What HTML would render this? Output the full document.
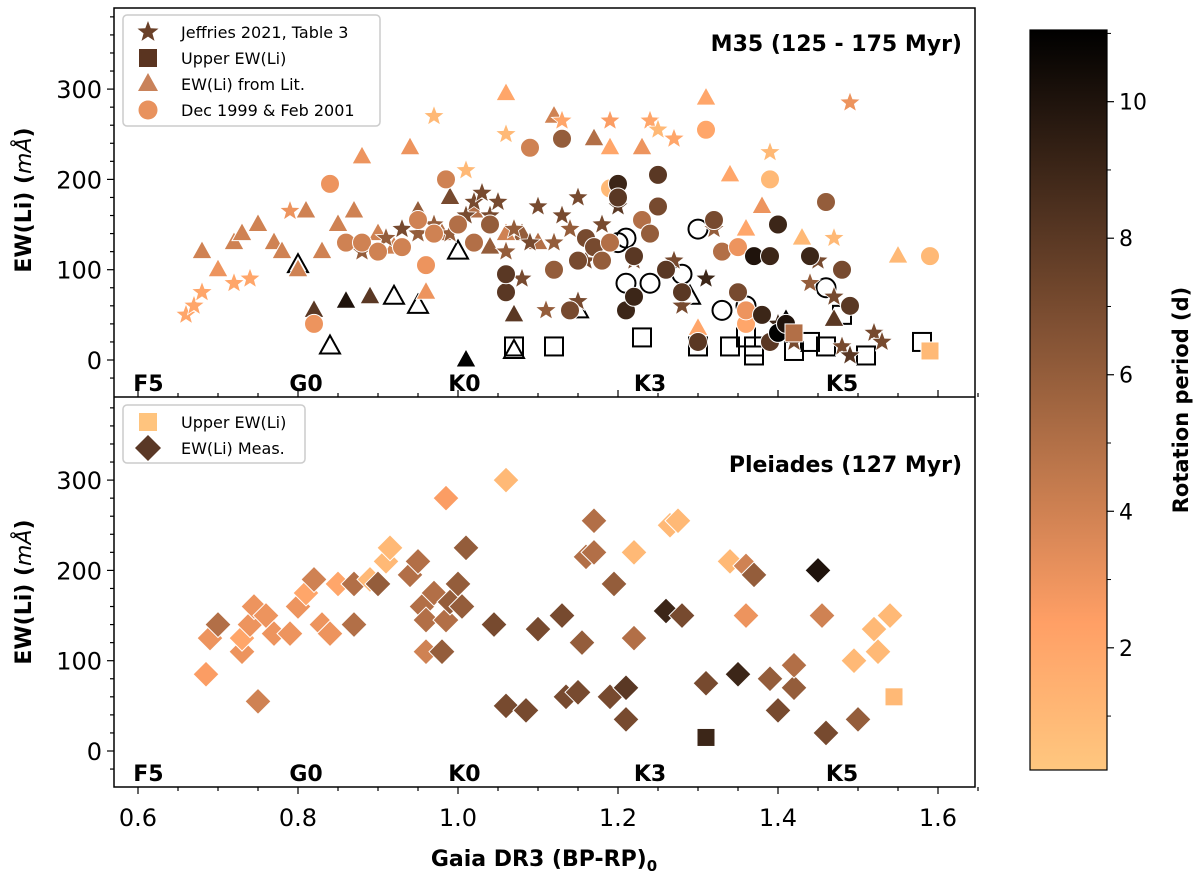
<!DOCTYPE html>
<html><head><meta charset="utf-8"><style>
body{margin:0;background:#fff;}
svg{display:block;font-family:"DejaVu Sans","Liberation Sans",sans-serif;}
</style></head><body>
<svg id="c" width="1200" height="875"></svg>
<script>
// ---- data ----
const m35Stars=[[0.66,50,2],[0.67,60,2],[0.68,75,2],[0.72,85,2],[0.74,90,2],[0.97,270,1],[1.01,210,1],[1.06,250,1],[1.13,265,2],[1.19,265,2.5],[1.24,265,2],[1.25,255,1],[1.27,245,2],[1.39,230,1],[1.47,135,1],[1.49,285,3],[0.79,165,3],
[0.88,120,6],[0.91,135,6],[0.93,145,7],[0.95,140,6],[0.97,150,6],[0.99,140,6],[1.01,160,7],[1.02,175,7],[1.03,185,7],[1.04,160,7],[1.05,175,7],[1.07,145,6],[1.09,130,7],[1.10,170,7],[1.12,130,6],[1.13,160,7],[1.15,180,7],[1.15,65,7],[1.16,110,7],[1.18,150,7],[1.20,170,8],[1.22,110,7],[1.27,110,7],[1.28,60,7],[1.31,90,9],[1.32,145,6],[1.36,50,8],[1.40,40,9],[1.42,20,7],[1.44,85,6],[1.45,110,7],[1.47,70,7],[1.48,15,7],[1.49,5,8],[1.52,30,7],[1.53,20,7],[1.14,145,6],[1.06,120,6],[1.08,90,7],[1.11,55,6]];
const m35Tri=[[0.68,120,4],[0.70,100,3],[0.72,130,4],[0.73,140,4],[0.75,150,4],[0.77,130,4],[0.78,120,4],[0.80,100,4],[0.81,165,4],[0.82,55,8],[0.83,120,4],[0.85,150,4],[0.86,65,10],[0.87,165,4],[0.88,225,3],[0.89,70,8],[0.90,140,4],[0.92,125,4],[0.94,235,3],[0.95,165,6],[0.96,75,3],[0.98,140,5],[0.99,180,7],[1.01,0,11],[1.02,165,5],[1.04,125,6],[1.06,295,2],[1.07,50,8],[1.08,140,6],[1.12,270,4],[1.17,245,5],[1.19,235,2],[1.23,235,3],[1.30,35,2],[1.31,290,2],[1.34,205,2],[1.36,145,2],[1.38,170,3],[1.41,45,11],[1.43,135,1],[1.47,45,8],[1.55,115,1],[1.06,140,4],[1.10,130,5]];
const m35TriOpen=[[0.84,15],[0.92,70],[0.95,60],[1.07,10],[1.00,120],[1.15,55],[1.29,70],[0.80,105]];
const m35Circ=[[0.82,40,3],[0.84,195,3],[0.86,130,4],[0.88,130,4],[0.90,120,4],[0.93,125,4],[0.95,155,4],[0.96,105,3],[0.97,140,4],[0.985,200,4],[1.0,150,5],[1.06,75,8],[1.06,95,8],[1.09,235,4],[1.12,100,6],[1.13,245,6],[1.14,55,7],[1.15,110,7],[1.16,135,7],[1.17,125,7],[1.18,110,6],[1.19,130,5],[1.19,190,1],[1.20,195,9],[1.20,180,8],[1.21,55,9],[1.22,115,8],[1.22,70,9],[1.23,155,5],[1.24,140,6],[1.25,205,8],[1.25,170,7],[1.26,100,8],[1.28,75,8],[1.30,20,8],[1.31,255,2],[1.32,155,7],[1.33,120,5],[1.35,125,3],[1.35,75,7],[1.36,40,2],[1.36,55,3],[1.37,115,10],[1.38,50,9],[1.39,115,9],[1.39,20,8],[1.39,200,1],[1.40,150,9],[1.40,30,11],[1.41,40,10],[1.44,115,9],[1.46,175,6],[1.48,100,7],[1.49,60,8],[1.59,115,1],[1.02,130,5],[1.04,150,6]];
const m35CircOpen=[[1.21,135],[1.21,85],[1.24,85],[1.30,145],[1.28,95],[1.33,55],[1.36,60],[1.46,80],[1.20,130]];
const m35Sq=[[1.59,10,1],[1.42,30,5]];
const m35SqOpen=[[1.07,15],[1.12,15],[1.23,25],[1.30,15],[1.34,15],[1.36,25],[1.37,15],[1.37,5],[1.42,10],[1.44,20],[1.46,15],[1.48,50],[1.51,5],[1.58,20]];
const plDia=[[0.685,85,2.5],[0.69,125,3],[0.70,140,5],[0.73,110,3],[0.73,125,2],[0.74,140,3],[0.745,160,3],[0.75,55,4],[0.76,150,3],[0.77,130,3],[0.79,130,3],[0.80,160,3],[0.81,175,2],[0.82,190,4],[0.83,140,3],[0.84,130,3],[0.85,185,2],[0.87,140,5],[0.87,185,5],[0.89,190,1],[0.90,185,6],[0.91,210,1],[0.915,225,1],[0.94,195,5],[0.95,210,5],[0.955,160,5],[0.96,110,4],[0.96,145,5],[0.97,175,5],[0.98,110,6],[0.985,145,5],[0.985,280,2.5],[0.99,165,6],[1.0,185,6],[1.005,160,6],[1.01,225,6],[1.045,140,7],[1.06,50,7],[1.06,300,1],[1.085,45,7],[1.10,135,7],[1.13,150,7],[1.135,60,7],[1.15,65,7],[1.155,120,6],[1.16,215,5],[1.17,220,5],[1.17,255,5],[1.19,60,7],[1.195,185,6],[1.21,70,8],[1.21,35,7],[1.22,220,1],[1.22,125,5],[1.26,155,9],[1.265,250,1],[1.275,255,1],[1.28,150,7],[1.31,75,7],[1.34,210,1],[1.35,85,9],[1.36,150,3],[1.36,205,4],[1.37,195,6],[1.39,80,6],[1.40,45,7],[1.42,70,6],[1.42,95,5],[1.45,200,10],[1.455,150,4],[1.46,20,7],[1.495,100,1],[1.50,35,6],[1.52,135,1],[1.525,110,1],[1.54,150,1]];
const plSq=[[1.31,15,9],[1.545,60,1]];
const xTicks=[0.6,0.8,1.0,1.2,1.4,1.6];
const yTicks=[0,100,200,300];
const cbTicks=[2,4,6,8,10];
const spec=[["F5",0.613],["G0",0.81],["K0",1.008],["K3",1.24],["K5",1.48]];
// ---- scales ----
const L=114,R=975,TT=8,TB=397,BB=787;
const X=v=>138+(v-0.6)*800;
const YT=v=>360-v*0.903;
const YB=v=>751-v*0.903;
const CMIN=0.21,CMAX=11.05;
const CB=v=>770-(v-CMIN)/(CMAX-CMIN)*740;
function col(p){let t=1-(p-CMIN)/(CMAX-CMIN);t=Math.max(0,Math.min(1,t));
 const r=Math.min(1,1.25*t),g=0.7812*t,b=0.4975*t;
 return `rgb(${Math.round(r*255)},${Math.round(g*255)},${Math.round(b*255)})`;}
const svg=document.getElementById('c');const NS='http://www.w3.org/2000/svg';
function el(tag,a,parent){const e=document.createElementNS(NS,tag);for(const k in a)e.setAttribute(k,a[k]);(parent||svg).appendChild(e);return e;}
function txt(s,a,parent){const e=el('text',a,parent);e.textContent=s;return e;}
function starPts(cx,cy,R){let p=[];for(let i=0;i<10;i++){const r=i%2?R*0.42:R;const a=-Math.PI/2+i*Math.PI/5;p.push((cx+r*Math.cos(a)).toFixed(1)+','+(cy+r*Math.sin(a)).toFixed(1));}return p.join(' ');}
function marker(g,kind,cx,cy,fill,stroke,sw){
 let e;
 if(kind==='star')e=el('polygon',{points:starPts(cx,cy,11)},g);
 else if(kind==='tri')e=el('polygon',{points:`${cx},${cy-11} ${cx+10},${cy+7} ${cx-10},${cy+7}`},g);
 else if(kind==='circ')e=el('circle',{cx:cx,cy:cy,r:9.5},g);
 else if(kind==='sq')e=el('rect',{x:cx-9,y:cy-9,width:18,height:18},g);
 else e=el('polygon',{points:`${cx},${cy-13} ${cx+13},${cy} ${cx},${cy+13} ${cx-13},${cy}`},g);
 e.setAttribute('fill',fill);e.setAttribute('stroke',stroke);e.setAttribute('stroke-width',sw);
 return e;}
// panels
function panel(y0,y1,Y,name){
 const g=el('g',{});
 
 
 for(let v=-40;v<=400;v+=20){const yy=Y(v);if(yy<y0+1||yy>y1-1)continue;const maj=v%100===0;
  el('line',{x1:L,x2:L-(maj?7:4),y1:yy,y2:yy,stroke:'#000','stroke-width':1.2},g);}
 yTicks.forEach(v=>{const t=txt(v,{x:L-12,y:Y(v)+9,'text-anchor':'end','font-size':24},g);
  });
 spec.forEach(s=>{const t=txt(s[0],{x:X(s[1]),y:y1-6,'text-anchor':'middle','font-size':22,'font-weight':'bold'},g);
  });
 return g;}
panel(TT,TB,YT,'m35');panel(TB,BB,YB,'pleiades');
// top panel inward x ticks
for(let i=0;i<=21;i++){const v=0.6+i*0.05;const xx=X(v);const maj=i%4===0;
 el('line',{x1:xx,x2:xx,y1:TB,y2:TB-(maj?7:4),stroke:'#000','stroke-width':1.2});}
// markers top
const mt=el('g',{});

m35SqOpen.forEach(d=>{const m=marker(mt,'sq',X(d[0]),YT(d[1]),'none','#000',2);});
m35TriOpen.forEach(d=>{const m=marker(mt,'tri',X(d[0]),YT(d[1]),'none','#000',2);});
m35CircOpen.forEach(d=>{const m=marker(mt,'circ',X(d[0]),YT(d[1]),'none','#000',2);});
m35Tri.forEach(d=>{const m=marker(mt,'tri',X(d[0]),YT(d[1]),col(d[2]),'#fff',1);});
m35Stars.forEach(d=>{const m=marker(mt,'star',X(d[0]),YT(d[1]),col(d[2]),'#fff',0.8);});
m35Circ.forEach(d=>{const m=marker(mt,'circ',X(d[0]),YT(d[1]),col(d[2]),'#fff',1);});
m35Sq.forEach(d=>{const m=marker(mt,'sq',X(d[0]),YT(d[1]),col(d[2]),'#fff',1);});
const mb=el('g',{});

plDia.forEach(d=>{const m=marker(mb,'dia',X(d[0]),YB(d[1]),col(d[2]),'#fff',1);});
plSq.forEach(d=>{const m=marker(mb,'sq',X(d[0]),YB(d[1]),col(d[2]),'#fff',1);});
// frames
el('rect',{x:L,y:TT,width:R-L,height:BB-TT,fill:'none',stroke:'#000','stroke-width':1.5});
el('line',{x1:L,x2:R,y1:TB,y2:TB,stroke:'#000','stroke-width':1.5});
// bottom x ticks
for(let i=0;i<=21;i++){const v=0.6+i*0.05;const xx=X(v);const maj=i%4===0;
 el('line',{x1:xx,x2:xx,y1:BB,y2:BB+(maj?7:4),stroke:'#000','stroke-width':1.2});}
xTicks.forEach(v=>{const t=txt(v.toFixed(1),{x:X(v),y:826,'text-anchor':'middle','font-size':24});});
// titles
let t=txt('M35 (125 - 175 Myr)',{x:962,y:51,'text-anchor':'end','font-size':22,'font-weight':'bold'});

t=txt('Pleiades (127 Myr)',{x:962,y:472,'text-anchor':'end','font-size':22,'font-weight':'bold'});

t=txt('',{x:544,y:866,'text-anchor':'middle','font-size':22,'font-weight':'bold'});
t.innerHTML='Gaia DR3 (BP-RP)<tspan font-size="15" dy="5">0</tspan>';

[[200,'m35'],[592,'pleiades']].forEach(a=>{const y=el('text',{transform:`translate(31,${a[0]}) rotate(-90)`,'text-anchor':'middle','font-size':22,'font-weight':'bold'});
 y.innerHTML='EW(Li) (<tspan font-style="italic" font-weight="normal">mÅ</tspan>)';
 });
// legends
function legend(x,y,w,h,items,name){const g=el('g',{});
 
 el('rect',{x:x,y:y,width:w,height:h,rx:4,fill:'#fff','fill-opacity':0.85,stroke:'#ccc','stroke-width':1.5},g);
 items.forEach((it,i)=>{const cy=y+17+i*26;marker(g,it[0],x+25,cy,it[1],'none',0);
  const tt=txt(it[2],{x:x+58,y:cy+6,'font-size':16},g);});}
legend(123,15,257,111,[['star','#6a4028','Jeffries 2021, Table 3'],['sq','#5a3420','Upper EW(Li)'],['tri','#c9825a','EW(Li) from Lit.'],['circ','#e8925e','Dec 1999 & Feb 2001']],'m35-legend');
legend(123,405,182,58,[['sq','#ffc47e','Upper EW(Li)'],['dia','#5a3826','EW(Li) Meas.']],'pleiades-legend');
// colorbar
const defs=el('defs',{});const lg=el('linearGradient',{id:'cg',x1:0,y1:1,x2:0,y2:0},defs);
for(let i=0;i<=20;i++){const p=CMIN+(CMAX-CMIN)*i/20;el('stop',{offset:i/20,'stop-color':col(p)},lg);}
const cbr=el('rect',{x:1030,y:30,width:77,height:740,fill:'url(#cg)',stroke:'#000','stroke-width':1.2});

cbTicks.forEach(v=>{el('line',{x1:1107,x2:1114,y1:CB(v),y2:CB(v),stroke:'#000','stroke-width':1.2});
 const c=txt(v,{x:1119,y:CB(v)+8,'font-size':22});});
for(let v=1;v<=11;v++){if(v%2===0)continue;el('line',{x1:1107,x2:1111,y1:CB(v),y2:CB(v),stroke:'#000','stroke-width':1});}
t=txt('Rotation period (d)',{transform:'translate(1188,400) rotate(-90)','text-anchor':'middle','font-size':21,'font-weight':'bold'});

</script>
</body></html>
